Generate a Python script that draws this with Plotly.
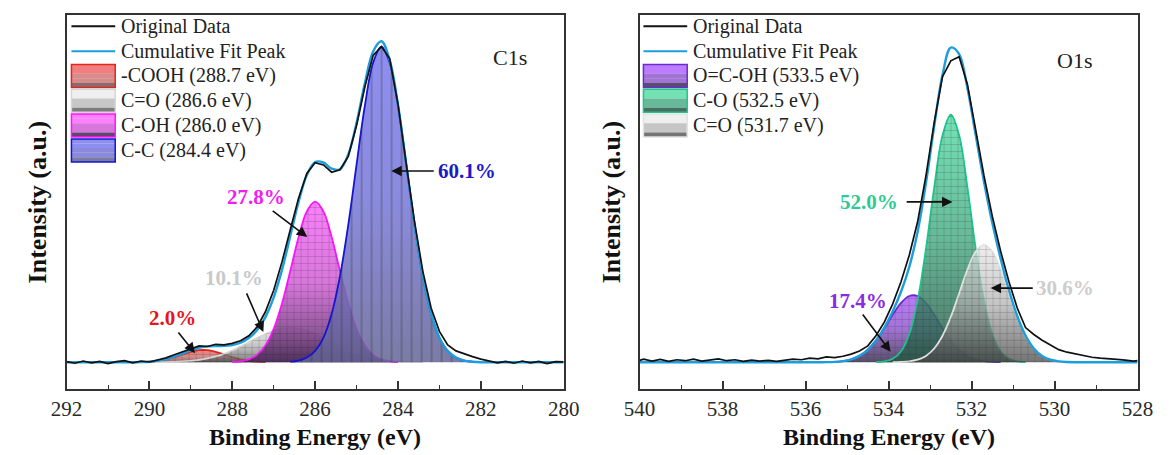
import plotly.graph_objects as go

# ------------------------------------------------------------------ C1s data
c1s_energy = [292.0, 291.8, 291.6, 291.4, 291.2, 291.0, 290.8, 290.6, 290.4, 290.2,
              290.0, 289.8, 289.6, 289.4, 289.2, 289.0, 288.8, 288.6, 288.4, 288.2,
              288.0, 287.8, 287.6, 287.4, 287.2, 287.0, 286.8, 286.6, 286.4, 286.2,
              286.0, 285.8, 285.6, 285.4, 285.2, 285.0, 284.8, 284.6, 284.4, 284.2,
              284.0, 283.8, 283.6, 283.4, 283.2, 283.0, 282.8, 282.6, 282.4, 282.2,
              282.0, 281.8, 281.6, 281.4, 281.2, 281.0, 280.8, 280.6, 280.4, 280.2, 280.0]
c1s_original = [0.002, -0.003, 0.004, -0.002, 0.003, -0.004, 0.002, 0.005, -0.002, 0.004,
                0.001, 0.008, 0.014, 0.024, 0.033, 0.044, 0.052, 0.050, 0.057, 0.055,
                0.060, 0.068, 0.084, 0.112, 0.160, 0.228, 0.318, 0.420, 0.520, 0.598,
                0.632, 0.625, 0.602, 0.610, 0.652, 0.750, 0.872, 0.972, 1.000, 0.962,
                0.818, 0.628, 0.445, 0.288, 0.172, 0.098, 0.055, 0.036, 0.026, 0.018,
                0.010, 0.004, -0.002, 0.003, -0.003, 0.004, -0.002, 0.003, -0.004, 0.002, 0.001]
c1s_cumulative = [0, 0, 0, 0, 0, 0, 0, 0, 0, 0.0007,
                  0.0019, 0.0049, 0.0100, 0.0178, 0.0277, 0.0379, 0.0460, 0.0505, 0.0517, 0.0519,
                  0.0545, 0.0619, 0.0767, 0.1021, 0.1431, 0.2056, 0.2926, 0.3998, 0.5081, 0.5929,
                  0.6345, 0.6328, 0.6131, 0.6116, 0.6583, 0.7586, 0.8834, 0.9846, 1.0168, 0.9568,
                  0.8156, 0.6275, 0.4358, 0.2734, 0.154, 0.078, 0.036, 0.015, 0.0055, 0.0018,
                  0, 0, 0, 0, 0, 0, 0, 0, 0, 0, 0]

c1s_names = ["-COOH", "C=O", "C-OH", "C-C"]
c1s_centers = [288.7, 286.6, 286.0, 284.4]
c1s_percent = [2.0, 10.1, 27.8, 60.1]

cooh_energy = [290.2, 290.0, 289.8, 289.6, 289.4, 289.2, 289.0, 288.8,
               288.6, 288.4, 288.2, 288.0, 287.8, 287.6, 287.4, 287.2]
cooh_intensity = [0.0007, 0.0019, 0.0045, 0.0092, 0.0163, 0.0250, 0.0332, 0.0383,
                  0.0383, 0.0332, 0.0250, 0.0163, 0.0092, 0.0045, 0.0019, 0.0007]

c_dbl_o_energy = [289.8, 289.6, 289.4, 289.2, 289.0, 288.8, 288.6, 288.4, 288.2, 288.0,
                  287.8, 287.6, 287.4, 287.2, 287.0, 286.8, 286.6, 286.4, 286.2, 286.0,
                  285.8, 285.6, 285.4, 285.2, 285.0, 284.8, 284.6, 284.4, 284.2, 284.0,
                  283.8, 283.6, 283.4]
c_dbl_o_intensity = [0.0004, 0.0008, 0.0015, 0.0027, 0.0047, 0.0077, 0.0122, 0.0185, 0.0269, 0.0373,
                     0.0496, 0.0631, 0.0768, 0.0895, 0.0999, 0.1066, 0.1090, 0.1066, 0.0999, 0.0895,
                     0.0768, 0.0631, 0.0496, 0.0373, 0.0269, 0.0185, 0.0122, 0.0077, 0.0047, 0.0027,
                     0.0015, 0.0008, 0.0004]

c_oh_energy = [288.0, 287.8, 287.6, 287.4, 287.2, 287.0, 286.8, 286.6, 286.4, 286.2, 286.0,
               285.8, 285.6, 285.4, 285.2, 285.0, 284.8, 284.6, 284.4, 284.2, 284.0]
c_oh_intensity = [0.0009, 0.0031, 0.0091, 0.0234, 0.0529, 0.1057, 0.186, 0.289, 0.396, 0.478, 0.509,
                  0.478, 0.396, 0.289, 0.186, 0.1057, 0.0529, 0.0234, 0.0091, 0.0031, 0.0009]

c_c_energy = [286.6, 286.4, 286.2, 286.0, 285.8, 285.6, 285.4, 285.2, 285.0, 284.8, 284.6, 284.4,
              284.2, 284.0, 283.8, 283.6, 283.4, 283.2, 283.0, 282.8, 282.6, 282.4, 282.2]
c_c_intensity = [0.0018, 0.0055, 0.015, 0.036, 0.078, 0.154, 0.273, 0.435, 0.626, 0.812, 0.949, 1.0,
                 0.949, 0.812, 0.626, 0.435, 0.273, 0.154, 0.078, 0.036, 0.015, 0.0055, 0.0018]

# ------------------------------------------------------------------ O1s data
o1s_energy = [540.0, 539.9, 539.7, 539.5, 539.3, 539.1, 538.9, 538.7, 538.5, 538.3,
              538.1, 537.9, 537.7, 537.5, 537.3, 537.1, 536.9, 536.7, 536.5, 536.3,
              536.1, 535.9, 535.7, 535.5, 535.3, 535.1, 534.9, 534.7, 534.5, 534.3,
              534.1, 533.9, 533.7, 533.5, 533.3, 533.1, 532.9, 532.7, 532.5, 532.3,
              532.1, 531.9, 531.7, 531.5, 531.3, 531.1, 530.9, 530.7, 530.5, 530.3,
              530.1, 529.9, 529.7, 529.5, 529.3, 529.1, 528.9, 528.7, 528.5, 528.3,
              528.1, 528.0]
o1s_original = [0.006, 0.010, 0.004, 0.009, 0.003, 0.008, 0.005, 0.010, 0.004, 0.008,
                0.011, 0.005, 0.008, 0.003, 0.007, 0.004, 0.006, 0.003, 0.007, 0.010,
                0.008, 0.013, 0.011, 0.017, 0.015, 0.019, 0.026, 0.036, 0.052, 0.085,
                0.128, 0.185, 0.255, 0.340, 0.445, 0.590, 0.760, 0.905, 0.955, 0.968,
                0.880, 0.735, 0.590, 0.462, 0.352, 0.255, 0.172, 0.110, 0.088, 0.070,
                0.055, 0.040, 0.032, 0.026, 0.020, 0.016, 0.013, 0.012, 0.009, 0.007,
                0.004, 0.005]
o1s_cumulative = [0, 0, 0, 0, 0, 0, 0, 0, 0, 0,
                  0, 0, 0, 0, 0, 0, 0, 0, 0, 0,
                  0, 0, 0, 0.0005, 0.0014, 0.0038, 0.0094, 0.0204, 0.0397, 0.0699,
                  0.1108, 0.1619, 0.2234, 0.3025, 0.4138, 0.5671, 0.7483, 0.9107, 0.9969, 0.9763,
                  0.8678, 0.7188, 0.5713, 0.4414, 0.3282, 0.2289, 0.1467, 0.0848, 0.0437, 0.0202,
                  0.0083, 0.0030, 0.0010, 0.0003, 0, 0, 0, 0, 0, 0,
                  0, 0]

o1s_names = ["O=C-OH", "C-O", "C=O"]
o1s_centers = [533.5, 532.5, 531.7]
o1s_percent = [17.4, 52.0, 30.6]

ocoh_energy = [535.5, 535.3, 535.1, 534.9, 534.7, 534.5, 534.3, 534.1, 533.9, 533.7, 533.5,
               533.3, 533.1, 532.9, 532.7, 532.5, 532.3, 532.1, 531.9, 531.7, 531.5, 531.3]
ocoh_intensity = [0.0005, 0.0014, 0.0038, 0.0094, 0.0204, 0.0397, 0.0692, 0.1078, 0.1505, 0.188, 0.210,
                  0.210, 0.188, 0.1505, 0.1078, 0.0692, 0.0397, 0.0204, 0.0094, 0.0038, 0.0014, 0.0005]

c_o_energy = [534.3, 534.1, 533.9, 533.7, 533.5, 533.3, 533.1, 532.9, 532.7, 532.5,
              532.3, 532.1, 531.9, 531.7, 531.5, 531.3, 531.1, 530.9, 530.7]
c_o_intensity = [0.0007, 0.0030, 0.0111, 0.0344, 0.0895, 0.1955, 0.3589, 0.5541, 0.7188, 0.784,
                 0.7188, 0.5541, 0.3589, 0.1955, 0.0895, 0.0344, 0.0111, 0.0030, 0.0007]

o_dbl_energy = [533.9, 533.7, 533.5, 533.3, 533.1, 532.9, 532.7, 532.5, 532.3, 532.1, 531.9, 531.7,
                531.5, 531.3, 531.1, 530.9, 530.7, 530.5, 530.3, 530.1, 529.9, 529.7, 529.5]
o_dbl_intensity = [0.0003, 0.0010, 0.0030, 0.0083, 0.0202, 0.0437, 0.0841, 0.1437, 0.2178, 0.2933, 0.3505, 0.372,
                   0.3505, 0.2933, 0.2178, 0.1437, 0.0841, 0.0437, 0.0202, 0.0083, 0.0030, 0.0010, 0.0003]

c1s_ticks = [292, 290, 288, 286, 284, 282, 280]
o1s_ticks = [540, 538, 536, 534, 532, 530, 528]

# ------------------------------------------------------------------ styles
FONT = "Liberation Serif, Times New Roman, serif"
CUM_COLOR = "#1c9ddc"

c1s_styles = [
    dict(line="#e3241f", top="rgba(238,95,95,0.80)", mid="rgba(200,90,90,0.70)", bottom="rgba(95,60,60,0.75)",
         shape="+", size=7, text="#e8141c"),
    dict(line="#d6d6d6", top="rgba(232,232,232,0.70)", mid="rgba(175,175,175,0.70)", bottom="rgba(80,80,80,0.75)",
         shape="+", size=7, text="#c9c9c9"),
    dict(line="#ff14ff", top="rgba(250,100,250,0.82)", mid="rgba(205,80,210,0.78)", bottom="rgba(70,35,85,0.85)",
         shape="+", size=7, text="#f01ef0"),
    dict(line="#1414d4", top="rgba(122,122,238,0.85)", mid="rgba(118,118,215,0.85)", bottom="rgba(100,100,150,0.85)",
         shape="|", size=10, text="#1a1ac6"),
]
o1s_styles = [
    dict(line="#6b2bd2", top="rgba(172,90,252,0.80)", mid="rgba(135,75,200,0.78)", bottom="rgba(50,40,72,0.82)",
         shape="+", size=7, text="#8a2be2"),
    dict(line="#20c48c", top="rgba(85,218,165,0.82)", mid="rgba(70,170,130,0.82)", bottom="rgba(40,85,70,0.85)",
         shape="+", size=7, text="#2bcb94"),
    dict(line="#e2e2e2", top="rgba(232,232,232,0.72)", mid="rgba(175,175,175,0.72)", bottom="rgba(70,70,70,0.75)",
         shape="+", size=7, text="#cdcdcd"),
]

fig = go.Figure()


def add_component(x, y, style, xa, ya):
    fig.add_trace(go.Scatter(
        x=x, y=y, xaxis=xa, yaxis=ya, mode="lines", fill="tozeroy",
        line=dict(color=style["line"], width=1.8, shape="spline", smoothing=1.0),
        fillgradient=dict(type="vertical", start=0, stop=max(y),
                          colorscale=[[0, style["bottom"]], [0.5, style["mid"]], [1, style["top"]]]),
        showlegend=False, hoverinfo="skip"))
    fig.add_trace(go.Scatter(
        x=x, y=y, xaxis=xa, yaxis=ya, mode="lines", fill="tozeroy",
        line=dict(width=0, shape="spline", smoothing=1.0, color="rgba(0,0,0,0)"),
        fillcolor="rgba(0,0,0,0)",
        fillpattern=dict(shape=style["shape"], fgcolor="rgba(45,45,45,0.45)", bgcolor="rgba(0,0,0,0)",
                         size=style["size"], solidity=0.12, fillmode="replace"),
        showlegend=False, hoverinfo="skip"))


c1s_components = [(cooh_energy, cooh_intensity), (c_dbl_o_energy, c_dbl_o_intensity),
                  (c_oh_energy, c_oh_intensity), (c_c_energy, c_c_intensity)]
o1s_components = [(ocoh_energy, ocoh_intensity), (c_o_energy, c_o_intensity),
                  (o_dbl_energy, o_dbl_intensity)]

for (ex, iy), st in zip(c1s_components, c1s_styles):
    add_component(ex, iy, st, "x", "y")
for (ex, iy), st in zip(o1s_components, o1s_styles):
    add_component(ex, iy, st, "x2", "y2")

for e, cum, orig, xa, ya in [(c1s_energy, c1s_cumulative, c1s_original, "x", "y"),
                             (o1s_energy, o1s_cumulative, o1s_original, "x2", "y2")]:
    fig.add_trace(go.Scatter(x=e, y=cum, xaxis=xa, yaxis=ya, mode="lines",
                             line=dict(color=CUM_COLOR, width=2.4, shape="spline", smoothing=1.0),
                             showlegend=False, hoverinfo="skip"))
    fig.add_trace(go.Scatter(x=e, y=orig, xaxis=xa, yaxis=ya, mode="lines",
                             line=dict(color="#111111", width=1.7),
                             showlegend=False, hoverinfo="skip"))

# ------------------------------------------------------------------ layout
W, H = 1175, 455
PANELS = {"c1s": dict(x0=52, y0=15, w=511, h=374, xa="x", ya="y"),
          "o1s": dict(x0=641, y0=15, w=512, h=374, xa="x2", ya="y2")}
Y_RANGE = [-0.0846, 1.100]

axis_common = dict(showline=True, linecolor="#333333", linewidth=1.6, mirror=True,
                   showgrid=False, zeroline=False, fixedrange=True)
xcommon = dict(axis_common, ticks="inside", ticklen=8, tickwidth=1.5, tickcolor="#333333",
               tickfont=dict(family=FONT, size=21, color="#2a2a2a"),
               minor=dict(ticks="inside", ticklen=4, tickwidth=1.4, tickcolor="#333333", dtick=1))
ycommon = dict(axis_common, showticklabels=False, ticks="", range=Y_RANGE)

pc, po = PANELS["c1s"], PANELS["o1s"]
ydom = [1 - (pc["y0"] + pc["h"]) / H, 1 - pc["y0"] / H]
fig.update_layout(
    width=W, height=H, margin=dict(l=0, r=0, t=0, b=0),
    paper_bgcolor="white", plot_bgcolor="white", hovermode=False, showlegend=False,
    font=dict(family=FONT, color="#222222"),
    xaxis=dict(xcommon, domain=[pc["x0"] / W, (pc["x0"] + pc["w"]) / W], range=[292, 280],
               tickvals=c1s_ticks, anchor="y"),
    yaxis=dict(ycommon, domain=ydom, anchor="x"),
    xaxis2=dict(xcommon, domain=[po["x0"] / W, (po["x0"] + po["w"]) / W], range=[540, 528],
                tickvals=o1s_ticks, anchor="y2"),
    yaxis2=dict(ycommon, domain=ydom, anchor="x2"),
)

annotations = []
shapes = []

# axis titles
for p in (pc, po):
    annotations.append(dict(text="<b>Binding Energy (eV)</b>", xref="paper", yref="paper",
                            x=(p["x0"] + p["w"] / 2) / W, y=1 - 437 / H, showarrow=False,
                            xanchor="center", yanchor="middle", font=dict(family=FONT, size=24, color="#111")))
annotations.append(dict(text="<b>Intensity (a.u.)</b>", xref="paper", yref="paper", x=22 / W, y=1 - 202 / H,
                        textangle=-90, showarrow=False, xanchor="center", yanchor="middle",
                        font=dict(family=FONT, size=26, color="#111")))
annotations.append(dict(text="<b>Intensity (a.u.)</b>", xref="paper", yref="paper", x=612 / W, y=1 - 202 / H,
                        textangle=-90, showarrow=False, xanchor="center", yanchor="middle",
                        font=dict(family=FONT, size=26, color="#111")))

# region labels
annotations.append(dict(text="C1s", xref="x domain", yref="y domain", x=(527 - 52) / 511, y=1 - (43 - 15) / 374,
                        showarrow=False, font=dict(family=FONT, size=22, color="#222")))
annotations.append(dict(text="O1s", xref="x2 domain", yref="y2 domain", x=(1108 - 641) / 512, y=1 - (46 - 15) / 374,
                        showarrow=False, font=dict(family=FONT, size=22, color="#222")))

# percentage labels + arrows  (text position, arrow tail, arrow head) in data coords
c1s_label_pos = [(289.44, 0.140), (287.95, 0.267), (287.42, 0.524), (282.34, 0.606)]
c1s_arrows = [((289.33, 0.099), (288.90, 0.029)), ((287.67, 0.223), (287.25, 0.096)),
              ((287.06, 0.483), (286.19, 0.397)), ((283.10, 0.606), (284.16, 0.606))]
o1s_label_pos = [(534.73, 0.194), (534.47, 0.508), (529.75, 0.235)]
o1s_arrows = [((534.65, 0.156), (533.95, 0.033)), ((533.60, 0.508), (532.46, 0.508)),
              ((530.49, 0.235), (531.54, 0.235))]

for pct, pos, arr, st, xa, ya in (
        [(a, b, c, d, "x", "y") for a, b, c, d in zip(c1s_percent, c1s_label_pos, c1s_arrows, c1s_styles)] +
        [(a, b, c, d, "x2", "y2") for a, b, c, d in zip(o1s_percent, o1s_label_pos, o1s_arrows, o1s_styles)]):
    annotations.append(dict(text=f"<b>{pct:.1f}%</b>", x=pos[0], y=pos[1], xref=xa, yref=ya, showarrow=False,
                            xanchor="center", yanchor="middle", font=dict(family=FONT, size=21, color=st["text"])))
    annotations.append(dict(text="", x=arr[1][0], y=arr[1][1], ax=arr[0][0], ay=arr[0][1], xref=xa, yref=ya,
                            axref=xa, ayref=ya, showarrow=True, arrowhead=2, arrowsize=1.3, arrowwidth=1.6,
                            arrowcolor="#111111", standoff=0, startstandoff=0))

# manual legends
ROW_Y = [26.3, 51.2, 76.0, 100.8, 125.6, 150.4]


def add_legend(p, labels, styles, sw_x0, sw_x1, text_x):
    xd, yd = p["xa"] + " domain", p["ya"] + " domain"
    fx = lambda px: (px - p["x0"]) / p["w"]
    fy = lambda py: 1 - (py - p["y0"]) / p["h"]
    entries = [("line", "#111111"), ("line", CUM_COLOR)] + [("box", s) for s in styles]
    for i, (lab, (kind, st)) in enumerate(zip(labels, entries)):
        yc = ROW_Y[i]
        if kind == "line":
            shapes.append(dict(type="line", xref=xd, yref=yd, x0=fx(sw_x0), x1=fx(sw_x1), y0=fy(yc), y1=fy(yc),
                               line=dict(color=st, width=2)))
        else:
            top, bot = yc - 11.5, yc + 11.5
            bands = [st["top"], st["top"], st["mid"], st["mid"], st["bottom"]]
            bh = (bot - top) / len(bands)
            for k, col in enumerate(bands):
                shapes.append(dict(type="rect", xref=xd, yref=yd, x0=fx(sw_x0), x1=fx(sw_x1),
                                   y0=fy(top + k * bh), y1=fy(top + (k + 1) * bh), fillcolor=col,
                                   line=dict(width=0)))
            shapes.append(dict(type="rect", xref=xd, yref=yd, x0=fx(sw_x0), x1=fx(sw_x1), y0=fy(top), y1=fy(bot),
                               fillcolor="rgba(0,0,0,0)", line=dict(color=st["line"], width=1.5)))
        annotations.append(dict(text=lab, xref=xd, yref=yd, x=fx(text_x), y=fy(yc), xanchor="left",
                                yanchor="middle", showarrow=False,
                                font=dict(family=FONT, size=20, color="#222222")))


c1s_labels = ["Original Data", "Cumulative Fit Peak"] + [f"{n} ({c:.1f} eV)" for n, c in zip(c1s_names, c1s_centers)]
o1s_labels = ["Original Data", "Cumulative Fit Peak"] + [f"{n} ({c:.1f} eV)" for n, c in zip(o1s_names, o1s_centers)]
add_legend(pc, c1s_labels, c1s_styles, 57, 102, 106)
add_legend(po, o1s_labels, o1s_styles, 645, 690, 694)

fig.update_layout(annotations=annotations, shapes=shapes)
fig.write_html(
    "out.html", config=dict(displayModeBar=False),
    post_script=("document.body.style.margin='0';document.body.style.overflow='hidden';"
                 "var vw=document.documentElement.clientWidth;"
                 "if(vw&&Math.abs(vw-%d)>2){Plotly.relayout('{plot_id}',{width:vw});}" % W))
